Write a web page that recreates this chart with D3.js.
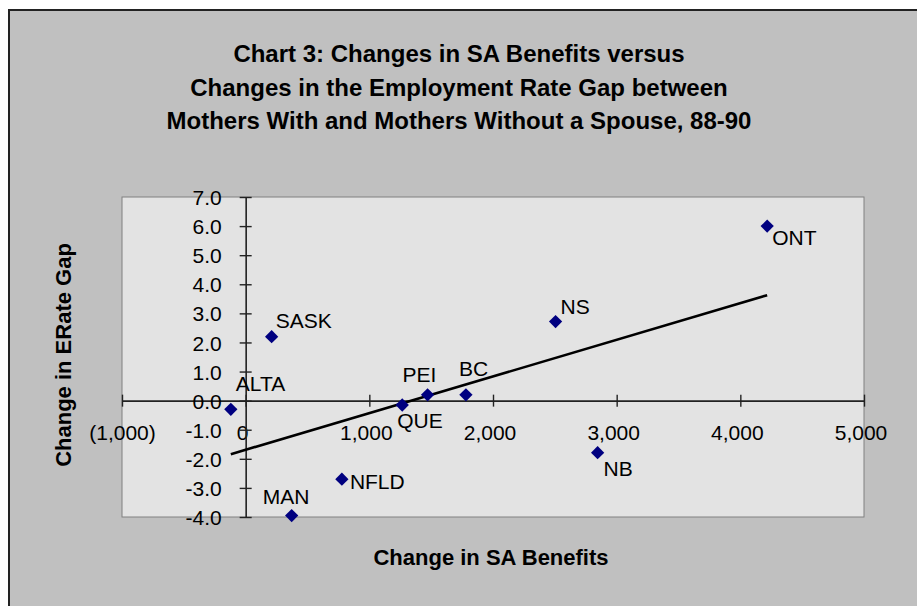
<!DOCTYPE html>
<html>
<head>
<meta charset="utf-8">
<script src="https://cdn.jsdelivr.net/npm/d3@7"></script>
<style>
  html, body { margin: 0; padding: 0; background: #fff; }
  svg { display: block; font-family: "Liberation Sans", Arial, sans-serif; }
  .tick text { font-size: 21px; fill: #000; }
  .pt-label { font-size: 21px; fill: #000; }
  .axis-title { font-size: 22px; font-weight: bold; }
  .title { font-size: 24px; font-weight: bold; }
</style>
</head>
<body>
<div id="chart"></div>
<script>
// Chart 3 data
const provinces = ['ALTA', 'SASK', 'MAN', 'NFLD', 'QUE', 'PEI', 'BC', 'NS', 'NB', 'ONT'];
const benefitChange = [-120, 210, 372, 778, 1266, 1471, 1781, 2506, 2846, 4217];
const erateGapChange = [-0.3, 2.2, -3.95, -2.7, -0.15, 0.2, 0.2, 2.72, -1.79, 6.0];
const xTicks = [-1000, 0, 1000, 2000, 3000, 4000, 5000];
const yTicks = [7, 6, 5, 4, 3, 2, 1, 0, -1, -2, -3, -4];
const titleLines = [
  'Chart 3: Changes in SA Benefits versus',
  'Changes in the Employment Rate Gap between',
  'Mothers With and Mothers Without a Spouse, 88-90'
];

// hand placed data labels, like the Excel original (dx, dy to baseline)
const labelOffset = {
  ALTA: [5, -18], SASK: [4, -9], MAN: [-29, -12], NFLD: [8, 10], QUE: [-5, 23],
  PEI: [-25, -13], BC: [-7, -19], NS: [5, -8], NB: [6, 23], ONT: [5, 19]
};

const W = 917, H = 606;
const plot = { left: 122, top: 197, right: 864, bottom: 517 };

const svg = d3.select('#chart').append('svg').attr('width', W).attr('height', H);

// chart area + outer frame
svg.append('rect').attr('x', 9).attr('y', 10).attr('width', 1000).attr('height', 700)
  .attr('fill', '#c0c0c0').attr('stroke', '#222').attr('stroke-width', 2);

// plot area
svg.append('rect')
  .attr('x', plot.left).attr('y', plot.top)
  .attr('width', plot.right - plot.left).attr('height', plot.bottom - plot.top)
  .attr('fill', '#e3e3e3').attr('stroke', '#808080').attr('stroke-width', 1);

const x = d3.scaleLinear().domain([-1000, 5000]).range([plot.left, plot.right]);
const y = d3.scaleLinear().domain([-4, 7]).range([plot.bottom, plot.top]);

const fmtX = d => d < 0 ? '(' + d3.format(',')(-d) + ')' : d3.format(',')(d);

// x axis through y = 0
const gx = svg.append('g')
  .attr('transform', `translate(0,${y(0)})`)
  .call(d3.axisBottom(x).tickValues(xTicks).tickFormat(fmtX).tickSizeOuter(0));
gx.select('.domain').attr('stroke', '#222').attr('stroke-width', 1.6);
gx.selectAll('.tick line').attr('y1', -6).attr('y2', 6).attr('stroke', '#222').attr('stroke-width', 1.4);
gx.selectAll('.tick text').attr('y', 39).attr('dy', 0)
  .attr('dx', d => d < 0 ? 0 : -3.5)
  .attr('font-family', null).attr('font-size', null);

// y axis through x = 0
const gy = svg.append('g')
  .attr('transform', `translate(${x(0)},0)`)
  .call(d3.axisLeft(y).tickValues(yTicks).tickFormat(d3.format('.1f')).tickSizeOuter(0));
gy.select('.domain').attr('stroke', '#222').attr('stroke-width', 1.6);
gy.selectAll('.tick line').attr('x1', -6).attr('x2', 6).attr('stroke', '#222').attr('stroke-width', 1.4);
gy.selectAll('.tick text').attr('x', -24).attr('dy', '0.36em')
  .text(d => d3.format('.1f')(d).replace('−', '-'))
  .attr('font-family', null).attr('font-size', null);

// linear trend line (least squares)
const mx = d3.mean(benefitChange), my = d3.mean(erateGapChange);
const sxy = d3.sum(benefitChange, (v, i) => (v - mx) * (erateGapChange[i] - my));
const sxx = d3.sum(benefitChange, v => (v - mx) * (v - mx));
const slope = sxy / sxx, icpt = my - slope * mx;
const [xMin, xMax] = d3.extent(benefitChange);
svg.append('line')
  .attr('x1', x(xMin)).attr('y1', y(icpt + slope * xMin))
  .attr('x2', x(xMax)).attr('y2', y(icpt + slope * xMax))
  .attr('stroke', '#000').attr('stroke-width', 2.6);

// markers
const pts = provinces.map((p, i) => ({ name: p, bx: benefitChange[i], gy: erateGapChange[i] }));
svg.selectAll('.pt').data(pts).join('path')
  .attr('class', 'pt')
  .attr('d', d3.symbol(d3.symbolSquare, 88))
  .attr('transform', d => `translate(${x(d.bx)},${y(d.gy)}) rotate(45)`)
  .attr('fill', '#000080');

svg.selectAll('.pt-label').data(pts).join('text')
  .attr('class', 'pt-label')
  .attr('x', d => x(d.bx) + labelOffset[d.name][0])
  .attr('y', d => y(d.gy) + labelOffset[d.name][1])
  .text(d => d.name);

// titles
svg.append('text').attr('class', 'title').attr('text-anchor', 'middle')
  .selectAll('tspan').data(titleLines).join('tspan')
  .attr('x', 459).attr('y', (d, i) => 62 + i * 33.5)
  .text(d => d);

svg.append('text').attr('class', 'axis-title').attr('text-anchor', 'middle')
  .attr('x', 491).attr('y', 565).text('Change in SA Benefits');

svg.append('text').attr('class', 'axis-title').attr('text-anchor', 'middle')
  .attr('transform', 'translate(71,355) rotate(-90)')
  .text('Change in ERate Gap');
</script>
</body>
</html>
